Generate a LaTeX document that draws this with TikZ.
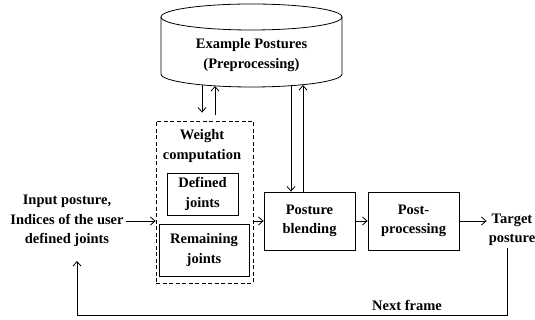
\documentclass[tikz,border=0pt]{standalone}
\usepackage{fontspec}
\setmainfont{Liberation Serif}
\usetikzlibrary{arrows.meta}

\tikzset{
  arr/.style={-{Straight Barb[length=4.5pt,width=8pt]}, line width=0.8pt},
  txt/.style={align=center, inner sep=2pt},
  blockbox/.style={draw, line width=0.8pt, align=center, inner sep=0pt,
    minimum width=91pt, minimum height=58pt},
}

\begin{document}
\begin{tikzpicture}[x=1pt,y=1pt,font=\fontsize{14.5}{19.5}\selectfont\bfseries]
    \useasboundingbox (0,0) rectangle (535,320);

      % Example postures (cylinder)
      \draw[line width=0.8pt] (161,303) -- (161,246)
        arc[start angle=180, end angle=360, x radius=90.5, y radius=13] -- (342,303);
      \draw[line width=0.8pt] (251.5,303) ellipse[x radius=90.5, y radius=13];
      \node[txt] (db) at (251.5,265) {Example Postures\\(Preprocessing)};
      \coordinate (dbL1) at (202,235);
      \coordinate (dbL2) at (215,234);
      \coordinate (dbR1) at (291,234.5);
      \coordinate (dbR2) at (303,235);

      % Weight computation
      \node[draw, line width=0.8pt, dash pattern=on 4pt off 2.5pt, inner sep=0pt,
        minimum width=97pt, minimum height=162pt] (wgt) at (204.5,118) {};
      \node[txt] (wgtlbl) at (202,174) {Weight\\computation};
      \node[blockbox, minimum width=71pt, minimum height=42pt] (defj) at (202.5,126) {Defined\\joints};
      \node[blockbox, minimum width=90pt, minimum height=52pt] (remj) at (204,70) {Remaining\\joints};

      % Input and output
      \node[txt] (inp) at (67,99) {Input posture,\\Indices of the user\\defined joints};
      \node[txt] (tgt) at (512,90) {Target\\posture};

      % Blending and post-processing
      \node[blockbox] (blend) at (309.5,99) {Posture\\blending};
      \node[blockbox] (post) at (413.5,99) {Post-\\processing};

      % Arrows
      \draw[arr] (dbL1) -- ([yshift=8pt]wgt.north -| dbL1);
      \draw[arr] ([yshift=6pt]wgt.north -| dbL2) -- (dbL2);
      \draw[arr] (dbR1) -- (dbR1 |- blend.north);
      \draw[arr] (blend.north -| dbR2) -- (dbR2);
      \draw[arr] (inp.east) -- (inp.east -| wgt.west);
      \draw[arr] (wgt.east |- blend.west) -- (blend.west);
      \draw[arr] (blend.east) -- (post.west);
      \draw[arr] (post.east) -- (post.east -| tgt.west);

      % Feedback to the next frame
      \coordinate (loopL) at (77,5);
      \draw[arr] ([xshift=-5pt]tgt.south) |- (loopL) -- ([yshift=-12pt]inp.south -| loopL);
      \node[txt] (nxt) at (407,15) {Next frame};
    \end{tikzpicture}
\end{document}
